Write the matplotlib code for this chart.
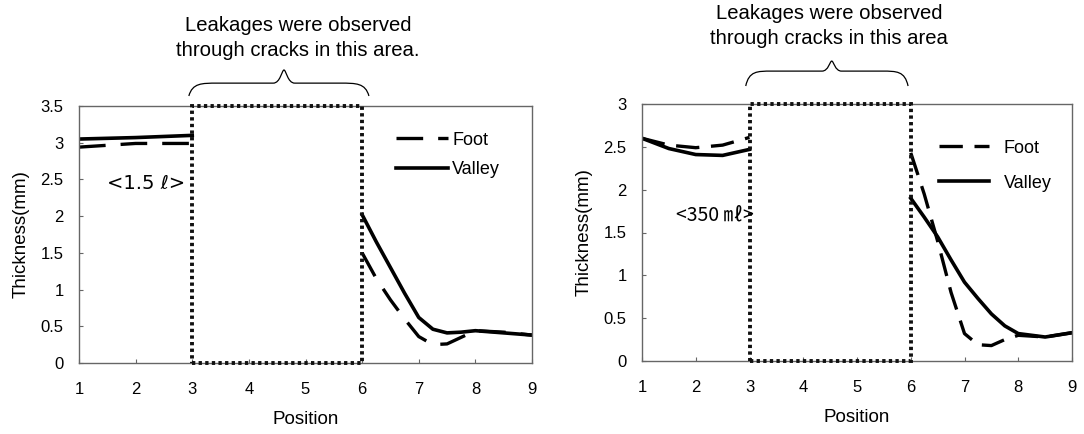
import numpy as np
import matplotlib
matplotlib.use("Agg")
import matplotlib.pyplot as plt
from matplotlib.path import Path
from matplotlib.patches import PathPatch, Rectangle
import matplotlib.transforms as mtransforms

plt.rcParams['font.family'] = ['Liberation Sans', 'DejaVu Sans']

# left chart (1.5 l)
pos_a1 = [1, 2, 3]
foot_a1 = [2.94, 2.99, 2.99]
valley_a1 = [3.05, 3.07, 3.10]
pos_b1 = [6, 6.25, 6.5, 6.75, 7, 7.25, 7.5, 7.75, 8, 8.5, 9]
foot_b1 = [1.50, 1.15, 0.86, 0.60, 0.36, 0.25, 0.26, 0.35, 0.44, 0.42, 0.38]
valley_b1 = [2.02, 1.65, 1.30, 0.95, 0.62, 0.46, 0.41, 0.42, 0.44, 0.41, 0.38]

# right chart (350 ml)
pos_a2 = [1, 1.5, 2, 2.5, 3]
foot_a2 = [2.60, 2.52, 2.49, 2.52, 2.61]
valley_a2 = [2.60, 2.48, 2.41, 2.40, 2.47]
pos_b2 = [6, 6.25, 6.5, 6.75, 7, 7.25, 7.5, 7.75, 8, 8.5, 9]
foot_b2 = [2.43, 1.95, 1.40, 0.80, 0.32, 0.19, 0.18, 0.25, 0.30, 0.28, 0.33]
valley_b2 = [1.90, 1.68, 1.45, 1.18, 0.92, 0.73, 0.55, 0.41, 0.32, 0.28, 0.33]

xticks = [1, 2, 3, 4, 5, 6, 7, 8, 9]
yticks1 = [0, 0.5, 1, 1.5, 2, 2.5, 3, 3.5]
yticks2 = [0, 0.5, 1, 1.5, 2, 2.5, 3]
note1 = "Leakages were observed\nthrough cracks in this area."
note2 = "Leakages were observed\nthrough cracks in this area"


def brace(ax, x0, x1, xm, ye, yf, yp):
    L = x1 - x0
    verts = [(x0, ye), (x0 + 0.02 * L, yf), (x0 + 0.07 * L, yf), (x0 + 0.16 * L, yf),
             (xm - 0.06 * L, yf),
             (xm - 0.02 * L, yf), (xm - 0.012 * L, yp), (xm, yp),
             (xm + 0.012 * L, yp), (xm + 0.02 * L, yf), (xm + 0.06 * L, yf),
             (x1 - 0.16 * L, yf),
             (x1 - 0.07 * L, yf), (x1 - 0.02 * L, yf), (x1, ye)]
    codes = [Path.MOVETO, Path.CURVE4, Path.CURVE4, Path.CURVE4,
             Path.LINETO,
             Path.CURVE4, Path.CURVE4, Path.CURVE4,
             Path.CURVE4, Path.CURVE4, Path.CURVE4,
             Path.LINETO,
             Path.CURVE4, Path.CURVE4, Path.CURVE4]
    tr = mtransforms.blended_transform_factory(ax.transData, ax.transAxes)
    ax.add_patch(PathPatch(Path(verts, codes), transform=tr, fill=False,
                           lw=0.9, color='black', clip_on=False))


def panel(ax, pa, fa, va, pb, fb, vb, ymax, yticks, dashes):
    ax.plot(pa, fa, color='black', lw=2.4, dashes=dashes, label='Foot')
    ax.plot(pa, va, color='black', lw=2.6, label='Valley')
    ax.plot(pb, fb, color='black', lw=2.4, dashes=dashes)
    ax.plot(pb, vb, color='black', lw=2.6)
    ax.add_patch(Rectangle((3, 0), 3, ymax, fill=False, ec='#111111', lw=2.8,
                           linestyle=(0, (0.85, 0.85)), clip_on=False, zorder=3))
    ax.set_xlim(1, 9)
    ax.set_ylim(0, ymax)
    ax.set_xticks(xticks)
    ax.set_yticks(yticks)
    ax.set_yticklabels([f"{t:g}" for t in yticks])
    ax.tick_params(direction='in', length=3, width=0.8, color='#666666', labelsize=12)
    ax.tick_params(axis='x', pad=14)
    ax.tick_params(axis='y', pad=11)
    for s in ax.spines.values():
        s.set_color('#666666')
        s.set_linewidth(1.0)
    ax.set_xlabel('Position', fontsize=13.5, labelpad=10)
    ax.set_ylabel('Thickness(mm)', fontsize=13.5, labelpad=8)


fig = plt.figure(figsize=(10.84, 4.34), dpi=100)
ax1 = fig.add_axes([79 / 1084, 71 / 434, 453 / 1084, 257 / 434])
ax2 = fig.add_axes([642 / 1084, 73 / 434, 430 / 1084, 257 / 434])

panel(ax1, pos_a1, foot_a1, valley_a1, pos_b1, foot_b1, valley_b1, 3.5, yticks1, (8, 4.5))
panel(ax2, pos_a2, foot_a2, valley_a2, pos_b2, foot_b2, valley_b2, 3.0, yticks2, (7, 3.5))

ax1.legend(loc='center left', bbox_to_anchor=(0.70, 0.81), frameon=False,
           fontsize=13, handlelength=2.9, handletextpad=0.2, labelspacing=0.7,
           borderpad=0, borderaxespad=0)
ax2.legend(loc='center left', bbox_to_anchor=(0.69, 0.76), frameon=False,
           fontsize=13, handlelength=2.8, handletextpad=0.8, labelspacing=1.0,
           borderpad=0, borderaxespad=0)

ax1.text(2.87, 2.45, '<1.5 \u2113>', fontsize=14, ha='right', va='center',
         family=['DejaVu Sans'])
ax2.text(3.08, 1.70, '<350 \u3396>', fontsize=14, ha='right', va='center',
         family=['Noto Sans CJK KR', 'DejaVu Sans'])

brace(ax1, 2.94, 6.12, 4.62, 1.039, 1.089, 1.140)
brace(ax2, 2.93, 5.95, 4.53, 1.070, 1.128, 1.167)

fig.text(298 / 1084, 1 - 38 / 434, note1, ha='center', va='center', fontsize=14.6,
         linespacing=1.45)
fig.text(829 / 1084, 1 - 26 / 434, note2, ha='center', va='center', fontsize=14.6,
         linespacing=1.45)

fig.savefig('out.png', dpi=100)
